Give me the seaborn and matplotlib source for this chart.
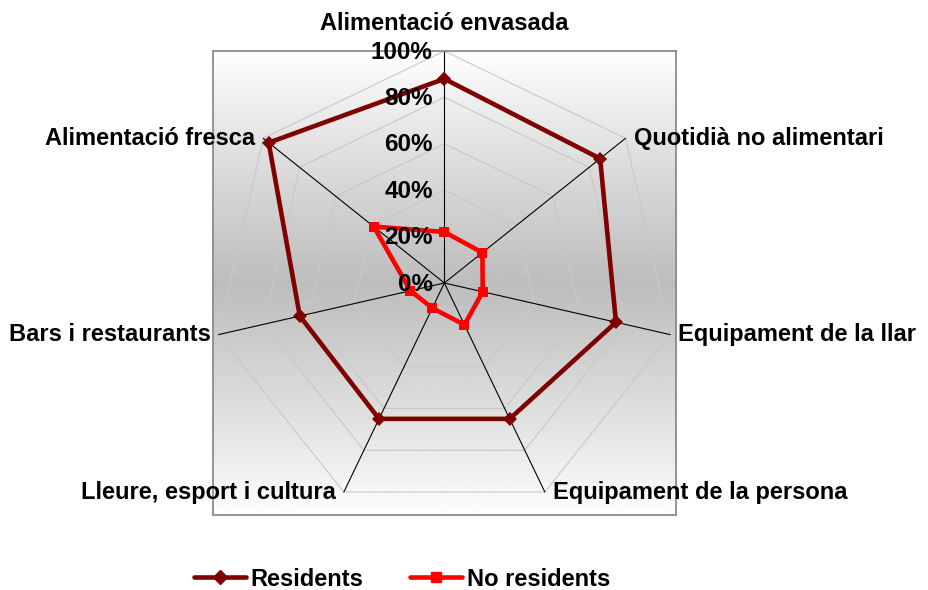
import numpy as np
import pandas as pd
import seaborn as sns
import matplotlib.pyplot as plt
from matplotlib.lines import Line2D

sns.set_style('white')
plt.rcParams['font.family'] = ['Liberation Sans', 'DejaVu Sans']
plt.rcParams['text.color'] = 'black'

# -------------------------------
# data
# -------------------------------
categories = ['Alimentació envasada', 'Quotidià no alimentari', 'Equipament de la llar',
              'Equipament de la persona', 'Lleure, esport i cultura', 'Bars i restaurants',
              'Alimentació fresca']
residents = [88, 86, 76, 65, 65, 64, 97]
no_residents = [22, 21, 17, 20, 12, 15, 39]
ticks = [0, 20, 40, 60, 80, 100]
tick_labels = ['0%', '20%', '40%', '60%', '80%', '100%']

n = len(categories)
ang = np.arange(n) * 2 * np.pi / n  # clockwise from top


def to_xy(vals):
    r = np.array(list(vals) + [vals[0]]) / 100.0
    a = np.append(ang, ang[0])
    return r * np.sin(a), r * np.cos(a)


rows = []
for name, vals in [('Residents', residents), ('No residents', no_residents)]:
    x, y = to_xy(vals)
    for i, (xi, yi) in enumerate(zip(x, y)):
        rows.append({'serie': name, 'ordre': i, 'x': xi, 'y': yi})
df = pd.DataFrame(rows)

# -------------------------------
# figure
# -------------------------------
fig = plt.figure(figsize=(9.29, 5.90), dpi=100)
ax = fig.add_axes([212.7 / 929, 1 - 515 / 590, 463.3 / 929, 464 / 590])
ax.set_xlim(-1, 1)
ax.set_ylim(-1, 1)
ax.set_xticks([])
ax.set_yticks([])
for s in ax.spines.values():
    s.set_color('#8c8c8c')
    s.set_linewidth(1.3)

# degradat vertical blanc - gris - blanc
yy = np.linspace(-1, 1, 300)
grad = 1 - 0.26 * (1 - np.abs(yy)) ** 0.9
ax.imshow(grad[:, None], extent=(-1, 1, -1, 1), cmap='gray', vmin=0, vmax=1,
          aspect='auto', origin='lower', zorder=0)

# graella heptagonal
for t in ticks[1:]:
    gx, gy = to_xy([t] * n)
    ax.plot(gx, gy, color='#c8c8c8', lw=0.8, zorder=1)
for a in ang:
    ax.plot([0, np.sin(a)], [0, np.cos(a)], color='black', lw=0.8, zorder=1)

# etiquetes de l'eix
for t, lab in zip(ticks, tick_labels):
    ax.text(-0.05, t / 100.0 - 0.005, lab, ha='right', va='center', fontsize=17.5,
            fontweight='bold', zorder=5)

# etiquetes de categoria
for i, cat in enumerate(categories):
    vx, vy = np.sin(ang[i]), np.cos(ang[i])
    if i == 0:
        ax.text(0, 1.07, cat, ha='center', va='bottom', fontsize=17,
                fontweight='bold', clip_on=False)
    elif vx > 0:
        ax.text(vx + 0.035, vy, cat, ha='left', va='center', fontsize=17,
                fontweight='bold', clip_on=False)
    else:
        ax.text(vx - 0.035, vy, cat, ha='right', va='center', fontsize=17,
                fontweight='bold', clip_on=False)

sns.lineplot(data=df, x='x', y='y', hue='serie', style='serie', units='serie',
             estimator=None, sort=False,
             palette={'Residents': '#800000', 'No residents': '#ff0000'},
             markers={'Residents': 'D', 'No residents': 's'},
             dashes=False, lw=3.3, markersize=7, markeredgewidth=0,
             ax=ax, zorder=3, legend=False)
ax.set_xlabel('')
ax.set_ylabel('')

handles = [Line2D([], [], color='#800000', lw=3.3, marker='D', markersize=7),
           Line2D([], [], color='#ff0000', lw=3.3, marker='s', markersize=7)]
fig.legend(handles, ['Residents', 'No residents'], loc='center',
           bbox_to_anchor=(402 / 929, 1 - 579 / 590), ncol=2, frameon=False,
           prop={'size': 17, 'weight': 'bold'}, handlelength=2.2,
           handletextpad=0.2, columnspacing=2.0)

plt.savefig('out.png', dpi=100)
